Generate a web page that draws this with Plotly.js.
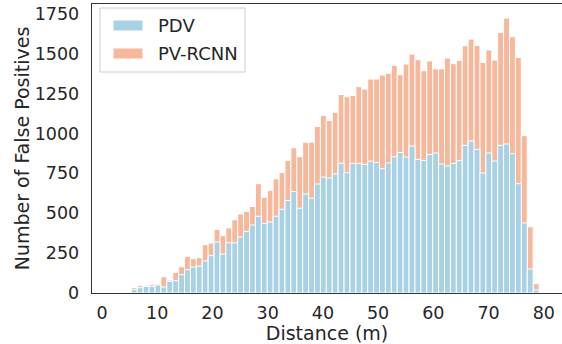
<!DOCTYPE html>
<html>
<head>
<meta charset="utf-8">
<script src="https://cdn.plot.ly/plotly-3.0.1.min.js"></script>
<style>html,body{margin:0;padding:0;background:#fff;}#chart{width:562px;height:344px;}</style>
</head>
<body>
<div id="chart"></div>
<script>
// Bin centres (m)
const distance = [3.71, 4.78, 5.85, 6.92, 7.99, 9.06, 10.13, 11.20, 12.27, 13.34,
  14.41, 15.48, 16.55, 17.62, 18.69, 19.76, 20.83, 21.90, 22.97, 24.04,
  25.11, 26.18, 27.25, 28.32, 29.39, 30.46, 31.53, 32.60, 33.67, 34.74,
  35.81, 36.88, 37.95, 39.02, 40.09, 41.16, 42.23, 43.30, 44.37, 45.44,
  46.51, 47.58, 48.65, 49.72, 50.79, 51.86, 52.93, 54.00, 55.07, 56.14,
  57.21, 58.28, 59.35, 60.42, 61.49, 62.56, 63.63, 64.70, 65.77, 66.84,
  67.91, 68.98, 70.05, 71.12, 72.19, 73.26, 74.33, 75.40, 76.47, 77.54, 78.61];

const pdv = [2, 0, 23, 33, 41, 41, 50, 38, 73, 77,
  115, 146, 163, 168, 201, 234, 320, 244, 315, 314,
  351, 386, 426, 481, 436, 445, 481, 525, 580, 636,
  531, 620, 594, 683, 726, 721, 746, 813, 754, 812,
  812, 806, 826, 818, 779, 815, 853, 881, 852, 921,
  837, 831, 868, 877, 808, 796, 812, 829, 925, 952,
  900, 752, 877, 827, 925, 934, 873, 685, 439, 150, 19];

const pvrcnn = [4, 0, 35, 46, 44, 52, 56, 102, 81, 129,
  164, 229, 215, 221, 303, 313, 398, 359, 408, 459,
  495, 512, 542, 685, 600, 643, 716, 755, 830, 910,
  854, 945, 945, 1044, 1113, 1081, 1132, 1244, 1230, 1238,
  1293, 1278, 1341, 1341, 1366, 1376, 1426, 1368, 1435, 1497,
  1462, 1393, 1454, 1405, 1405, 1472, 1437, 1457, 1549, 1591,
  1551, 1445, 1523, 1460, 1633, 1723, 1606, 1476, 986, 415, 58];

const xTicks = [0, 10, 20, 30, 40, 50, 60, 70, 80];
const yTicks = [0, 250, 500, 750, 1000, 1250, 1500, 1750];

const seriesNames = ['PDV', 'PV-RCNN'];
const colBlue = '#a8d1e5';
const colPink = '#f6b79b';
const font = 'DejaVu Sans, sans-serif';
const txt = '#262626';

const traces = [
  {type: 'bar', name: seriesNames[1], x: distance, y: pvrcnn, width: 1.07,
   marker: {color: colPink, line: {color: '#ffffff', width: 1}}, hoverinfo: 'x+y'},
  {type: 'bar', name: seriesNames[0], x: distance, y: pdv, width: 1.07,
   marker: {color: colBlue, line: {color: '#ffffff', width: 1}}, hoverinfo: 'x+y'}
];

// plot area in pixels: x 92..562, y 4..293
const px = v => (v - 92) / 470;
const py = v => (293 - v) / 289;

const layout = {
  width: 562, height: 344,
  margin: {l: 92, r: 0, t: 4, b: 51, pad: 0},
  paper_bgcolor: '#ffffff', plot_bgcolor: '#ffffff',
  barmode: 'overlay', bargap: 0,
  showlegend: false,
  font: {family: font, color: txt},
  xaxis: {
    range: [-1.81, 83.3], tickmode: 'array', tickvals: xTicks,
    ticks: '', showgrid: false, zeroline: false,
    showline: true, mirror: true, linecolor: '#333333', linewidth: 1.3,
    tickfont: {family: font, size: 17.5, color: txt},
    ticklabelstandoff: 4,
    title: {text: 'Distance (m)', font: {family: font, size: 19, color: txt}, standoff: 5}
  },
  yaxis: {
    range: [0, 1811], tickmode: 'array', tickvals: yTicks,
    ticks: '', showgrid: false, zeroline: false,
    showline: true, mirror: true, linecolor: '#333333', linewidth: 1.3,
    tickfont: {family: font, size: 17.5, color: txt},
    ticklabelstandoff: 8,
    title: {text: 'Number of False Positives', font: {family: font, size: 19, color: txt}, standoff: 0}
  },
  shapes: [
    {type: 'rect', xref: 'paper', yref: 'paper', x0: px(100), x1: px(245), y0: py(72), y1: py(8),
     line: {color: '#cccccc', width: 1}, fillcolor: 'rgba(255,255,255,0.8)', layer: 'above'},
    {type: 'rect', xref: 'paper', yref: 'paper', x0: px(113), x1: px(143), y0: py(31), y1: py(20),
     line: {color: '#ffffff', width: 1}, fillcolor: colBlue, layer: 'above'},
    {type: 'rect', xref: 'paper', yref: 'paper', x0: px(113), x1: px(143), y0: py(59), y1: py(48),
     line: {color: '#ffffff', width: 1}, fillcolor: colPink, layer: 'above'}
  ],
  annotations: [
    {xref: 'paper', yref: 'paper', x: px(156), y: py(26), xanchor: 'left', yanchor: 'middle',
     text: seriesNames[0], showarrow: false, font: {family: font, size: 18, color: txt}},
    {xref: 'paper', yref: 'paper', x: px(156), y: py(54), xanchor: 'left', yanchor: 'middle',
     text: seriesNames[1], showarrow: false, font: {family: font, size: 18, color: txt}}
  ]
};

Plotly.newPlot('chart', traces, layout, {displayModeBar: false, staticPlot: true});
</script>
</body>
</html>
